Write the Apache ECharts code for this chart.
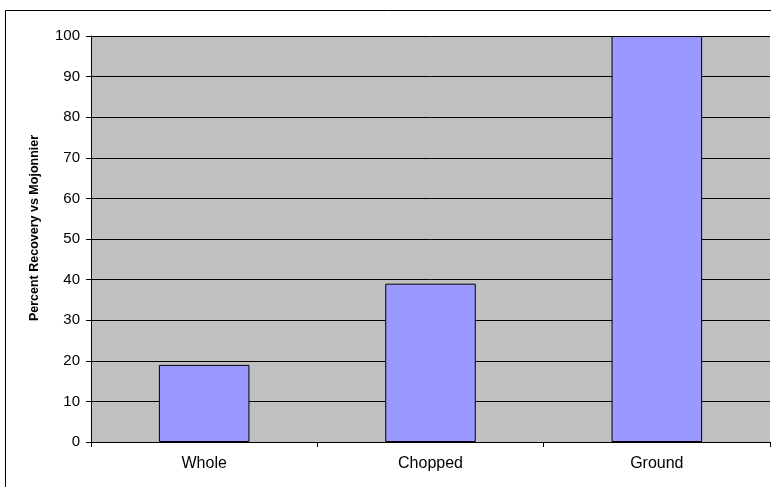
<!DOCTYPE html>
<html><head><meta charset="utf-8">
<script src="https://cdn.jsdelivr.net/npm/echarts@6/dist/echarts.min.js"></script>
<style>html,body{margin:0;padding:0;background:#fff}#c{width:771px;height:487px}</style>
</head><body><div id="c"></div>
<script>
var categories = ["Whole", "Chopped", "Ground"];
var recovery = [19, 39, 100];
var yTicks = [0, 10, 20, 30, 40, 50, 60, 70, 80, 90, 100];
var yTitle = "Percent Recovery vs Mojonnier";

var chart = echarts.init(document.getElementById('c'), null, {renderer: 'canvas'});
chart.setOption({
  animation: false,
  textStyle: {fontFamily: 'Liberation Sans, Arial, sans-serif'},
  graphic: [{
    type: 'rect', silent: true, z: -10,
    shape: {x: 5.5, y: 10.5, width: 800, height: 500},
    style: {fill: 'none', stroke: '#000', lineWidth: 1}
  }],
  grid: {left: 91, right: 1, top: 36, bottom: 45, show: true, backgroundColor: '#C0C0C0', borderWidth: 0},
  xAxis: {
    type: 'category', data: categories,
    axisLine: {show: true, lineStyle: {color: '#000', width: 1}},
    axisTick: {show: true, length: 5, alignWithLabel: false, lineStyle: {color: '#000'}},
    axisLabel: {color: '#000', fontSize: 16, margin: 14, fontFamily: 'Liberation Sans, Arial, sans-serif'},
    splitLine: {show: false}
  },
  yAxis: {
    type: 'value', min: yTicks[0], max: yTicks[yTicks.length - 1], interval: 10,
    name: yTitle, nameLocation: 'middle', nameGap: 50, nameRotate: 90,
    nameTextStyle: {color: '#000', fontSize: 12.5, fontWeight: 'bold', padding: [0, 0, 0, 22], fontFamily: 'Liberation Sans, Arial, sans-serif'},
    axisLine: {show: true, lineStyle: {color: '#000', width: 1}},
    axisTick: {show: true, length: 5, lineStyle: {color: '#000'}},
    axisLabel: {color: '#000', fontSize: 15, margin: 11, fontFamily: 'Liberation Sans, Arial, sans-serif'},
    splitLine: {show: true, lineStyle: {color: '#000', width: 1}}
  },
  series: [{
    type: 'bar', data: recovery, barCategoryGap: '60%',
    itemStyle: {color: '#9999FF', borderColor: '#000', borderWidth: 1}
  }]
});
</script></body></html>
